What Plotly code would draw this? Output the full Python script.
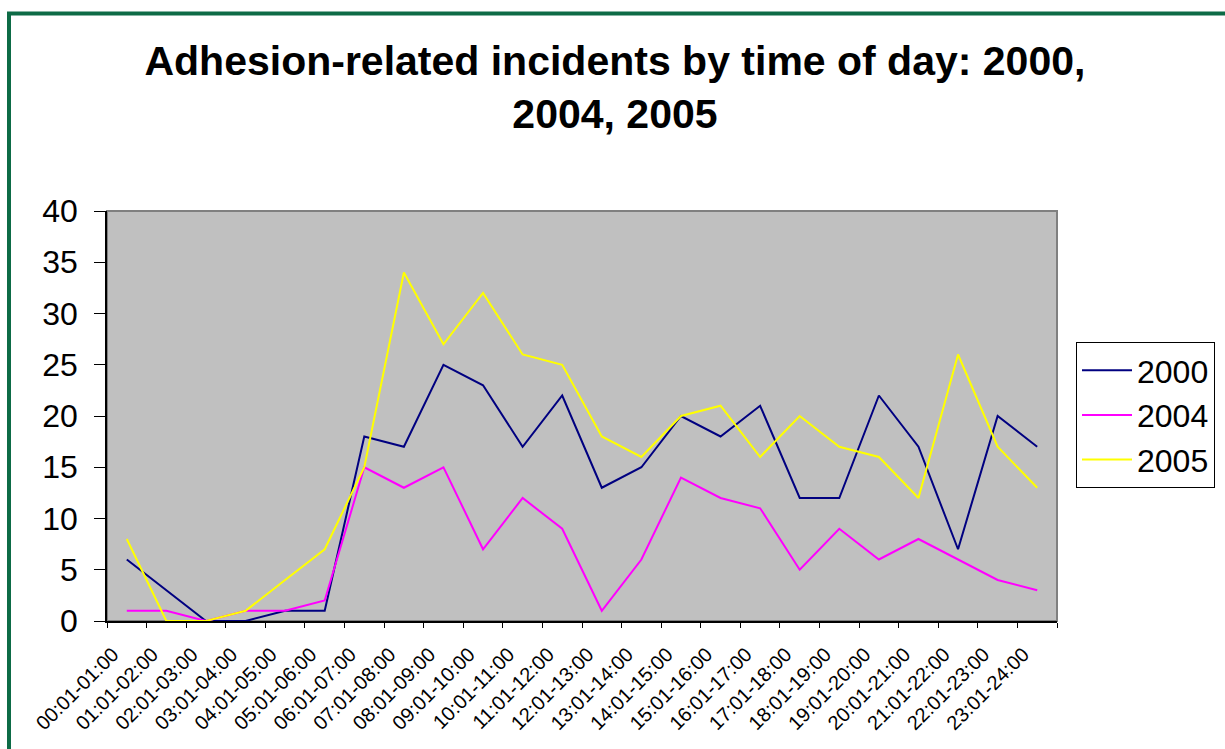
import plotly.graph_objects as go

categories = ["00:01-01:00", "01:01-02:00", "02:01-03:00", "03:01-04:00", "04:01-05:00",
              "05:01-06:00", "06:01-07:00", "07:01-08:00", "08:01-09:00", "09:01-10:00",
              "10:01-11:00", "11:01-12:00", "12:01-13:00", "13:01-14:00", "14:01-15:00",
              "15:01-16:00", "16:01-17:00", "17:01-18:00", "18:01-19:00", "19:01-20:00",
              "20:01-21:00", "21:01-22:00", "22:01-23:00", "23:01-24:00"]

y2000 = [6, 3, 0, 0, 1, 1, 18, 17, 25, 23, 17, 22, 13, 15, 20, 18, 21, 12, 12, 22, 17, 7, 20, 17]
y2004 = [1, 1, 0, 1, 1, 2, 15, 13, 15, 7, 12, 9, 1, 6, 14, 12, 11, 5, 9, 6, 8, 6, 4, 3]
y2005 = [8, 0, 0, 1, 4, 7, 15, 34, 27, 32, 26, 25, 18, 16, 20, 21, 16, 20, 17, 16, 12, 26, 17, 13]

series = [("2000", y2000, "#000080"), ("2004", y2004, "#FF00FF"), ("2005", y2005, "#FFFF00")]

FONT = "Liberation Sans, Arial, sans-serif"

fig = go.Figure()
for name, vals, col in series:
    fig.add_trace(go.Scatter(x=categories, y=vals, name=name, mode="lines",
                             line=dict(color=col, width=2)))

L, R, T, B = 107, 168, 211, 128
W, H = 1225, 749
pw = W - L - R
ph = H - T - B

def px_x(px):
    return (px - L) / pw

def px_y(py):
    return (H - B - py) / ph

fig.update_layout(
    width=W, height=H,
    margin=dict(l=L, r=R, t=T, b=B, pad=0, autoexpand=False),
    paper_bgcolor="white",
    plot_bgcolor="#C0C0C0",
    font=dict(family=FONT, color="black"),
    title=dict(text="Adhesion-related incidents by time of day: 2000,<br>2004, 2005",
               font=dict(family=FONT, size=41, color="black", weight="bold"),
               x=0.502, xref="container", xanchor="center",
               y=1 - 75 / H, yref="container", yanchor="top", automargin=False),
    showlegend=True,
    legend=dict(x=px_x(1076), y=px_y(342), xanchor="left", yanchor="top",
                bgcolor="white", bordercolor="black", borderwidth=1,
                font=dict(family=FONT, size=32, color="black"),
                itemwidth=50, tracegroupgap=0),
    xaxis=dict(type="category", showgrid=False, showline=True, linecolor="black", linewidth=1.5,
               ticks="outside", ticklen=5, tickcolor="black", tickwidth=1,
               tickson="boundaries", tickangle=-45, automargin=False,
               tickfont=dict(family=FONT, size=20, color="black"),
               ticklabelshift=-14, ticklabelstandoff=12,
               range=[-0.5, 23.5], zeroline=False),
    yaxis=dict(range=[0, 40], dtick=5, showgrid=False, showline=True, linecolor="black", linewidth=1.5,
               ticks="outside", ticklen=11, tickcolor="black", tickwidth=1, automargin=False,
               tickfont=dict(family=FONT, size=32, color="black"),
               ticklabelstandoff=10, zeroline=False),
    shapes=[
        dict(type="rect", xref="paper", yref="paper", x0=0, x1=1, y0=0, y1=1,
             line=dict(color="#808080", width=2), layer="below"),
        dict(type="rect", xref="paper", yref="paper",
             x0=px_x(9), x1=px_x(1300), y0=px_y(820), y1=px_y(13.5),
             line=dict(color="#0D6B46", width=4), fillcolor="rgba(0,0,0,0)", layer="above"),
    ],
)

fig.write_html("out.html", config={"displayModeBar": False},
               post_script="document.body.style.margin='0';")
